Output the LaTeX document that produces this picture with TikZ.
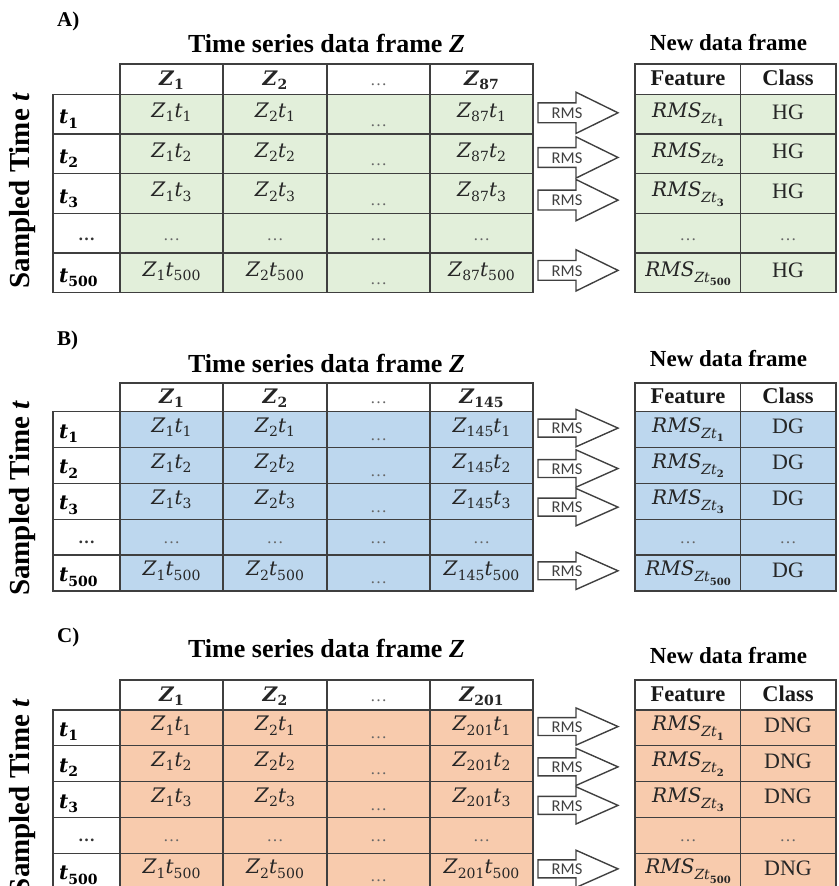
\documentclass[tikz,border=0pt]{standalone}
\usepackage{fontspec}
\setmainfont{Liberation Serif}
\newfontfamily\rmsfont{Carlito}
\newfontfamily\mathlike{DejaVu Serif}
\definecolor{gfill}{HTML}{E2EFDA}
\definecolor{bfill}{HTML}{BDD7EE}
\definecolor{ofill}{HTML}{F8CBAD}
\definecolor{gridc}{HTML}{3F3F3F}
% math-like cell texts
\newcommand\SB[1]{\raisebox{-0.22em}{\fontsize{14}{14}\selectfont\upshape #1}}
\newcommand\ZT[2]{\textit{Z}\SB{#1}\textit{t}\SB{#2}}
\newcommand\RMSsub[1]{\textit{RMS}\raisebox{-0.3em}{\fontsize{14}{14}\selectfont\itshape Zt\raisebox{-0.25em}{\fontsize{10}{10}\selectfont\upshape\bfseries #1}}}
\newcommand\HZ[1]{\textbf{\textit{Z}}\SB{\bfseries #1}}
\newcommand\HT[1]{\textbf{\textit{t}}\SB{\bfseries #1}}
\tikzset{
  gridline/.style={draw=gridc, line width=1.3pt},
  cell/.style={inner sep=0pt, font=\mathlike\fontsize{20}{24}\selectfont, text=black!85},
  clscell/.style={inner sep=0pt, font=\fontsize{22}{24}\selectfont, text=black!85},
  hcell/.style={inner sep=0pt, font=\fontsize{22.5}{26}\selectfont\bfseries, text=black!90},
  rowlab/.style={inner sep=0pt, font=\mathlike\fontsize{20}{24}\selectfont, text=black},
  dotc/.style={inner sep=0pt, font=\fontsize{17}{20}\selectfont, text=black!60},
  rowdots/.style={inner sep=0pt, font=\fontsize{17}{20}\selectfont\bfseries, text=black!80},
  rmsarrow/.style={draw=black!75, line width=1.4pt, line join=miter},
  rmslab/.style={inner sep=0pt, font=\rmsfont\fontsize{16.5}{18}\selectfont, text=black!75},
  paneltitle/.style={inner sep=0pt, font=\fontsize{26}{30}\selectfont\bfseries, text=black},
  newtitle/.style={inner sep=0pt, font=\fontsize{23}{27}\selectfont\bfseries, text=black},
  panlab/.style={inner sep=0pt, font=\fontsize{21}{24}\selectfont\bfseries, text=black},
  sidelab/.style={inner sep=0pt, font=\fontsize{29}{32}\selectfont\bfseries, text=black},
}
% #1 id, #2 fill, #3 last Z index, #4 class, #5 header top, #6 header height,
% #7 row height, #8 title baseline, #9 new-frame title baseline
\newcommand\DrawPanel[9]{%
  \pgfmathsetmacro\pHT{#5}%
  \pgfmathsetmacro\pHB{#5+#6}%
  \pgfmathsetmacro\pBT{#5+#6+5*#7}%
  \fill[#2] (120,\pHB) rectangle (533,\pBT);
  \fill[#2] (635,\pHB) rectangle (836,\pBT);
  % grid of main table
  \draw[gridline] (120,\pHT) rectangle (533,\pBT);
  \draw[gridline] (53,\pHB) rectangle (120,\pBT);
  \foreach \xx in {223,327,430} {\draw[gridline] (\xx,\pHT) -- (\xx,\pBT);}
  \foreach \k in {1,...,4} {\draw[gridline] (53,{\pHB+\k*#7}) -- (533,{\pHB+\k*#7});}
  \draw[gridline] (120,\pHB) -- (533,\pHB);
  % grid of new table
  \draw[gridline] (635,\pHT) rectangle (836,\pBT);
  \draw[gridline] (740.7,\pHT) -- (740.7,\pBT);
  \draw[gridline] (635,\pHB) -- (836,\pHB);
  \foreach \k in {1,...,4} {\draw[gridline] (635,{\pHB+\k*#7}) -- (836,{\pHB+\k*#7});}
  % titles
  \node[panlab, anchor=west] (#1-lab) at (57,{#5-43}) {#1)};
  \node[paneltitle, anchor=base] (#1-title) at (326.5,#8) {Time series data frame \textit{Z}};
  \node[newtitle, anchor=base] (#1-newtitle) at (728.5,#9) {New data frame};
  \node[sidelab, rotate=90] (#1-side) at (23,{(\pHB+\pBT)/2-3}) {Sampled Time \textit{t}};
  % header
  \pgfmathsetmacro\hc{\pHT+#6/2+6}%
  \node[cell, anchor=base] (#1-h1) at (171.5,\hc) {\HZ{1}};
  \node[cell, anchor=base] (#1-h2) at (275,\hc) {\HZ{2}};
  \node[dotc, anchor=base] (#1-h3) at (378.5,\hc) {\dots};
  \node[cell, anchor=base] (#1-h4) at (481.5,\hc) {\HZ{#3}};
  \node[hcell, anchor=base] (#1-hf) at (688,\hc) {Feature};
  \node[hcell, anchor=base] (#1-hg) at (788,\hc) {Class};
  % data rows
  \foreach \i/\s in {1/1,2/2,3/3,5/500} {
    \pgfmathsetmacro\rc{\pHB+(\i-0.5)*#7}
    \node[rowlab, anchor=base west] (#1-l\i) at (59,{\rc+0.24*#7}) {\HT{\s}};
    \node[cell, anchor=base] (#1-a\i) at (171.5,{\rc+0.08*#7}) {\ZT{1}{\s}};
    \node[cell, anchor=base] (#1-b\i) at (275,{\rc+0.08*#7}) {\ZT{2}{\s}};
    \node[dotc, anchor=base] (#1-c\i) at (378.5,{\rc+0.3*#7}) {\dots};
    \node[cell, anchor=base] (#1-d\i) at (481.5,{\rc+0.08*#7}) {\ZT{#3}{\s}};
    \node[cell, anchor=base] (#1-f\i) at (688,{\rc+0.08*#7}) {\RMSsub{\s}};
    \node[clscell, anchor=base] (#1-g\i) at (788,{\rc+0.12*#7}) {#4};
  }
  % dots row
  \pgfmathsetmacro\rd{\pHB+3.5*#7+0.18*#7}%
  \node[rowdots, anchor=base] (#1-l4) at (86.5,\rd) {\dots};
  \node[dotc, anchor=base] (#1-a4) at (171.5,\rd) {\dots};
  \node[dotc, anchor=base] (#1-b4) at (275,\rd) {\dots};
  \node[dotc, anchor=base] (#1-c4) at (378.5,\rd) {\dots};
  \node[dotc, anchor=base] (#1-d4) at (481.5,\rd) {\dots};
  \node[dotc, anchor=base] (#1-f4) at (688,\rd) {\dots};
  \node[dotc, anchor=base] (#1-g4) at (788,\rd) {\dots};
  % RMS arrows
  \foreach \i/\o in {1/-1.5,2/3.5,3/6.5,5/-2.5} {
    \pgfmathsetmacro\ay{\pHB+(\i-0.5)*#7+\o*#7/39.6}
    \pgfmathsetmacro\hh{0.52*#7}
    \pgfmathsetmacro\bh{0.25*#7}
    \draw[rmsarrow] (538,\ay-\bh) -- (576,\ay-\bh) -- (576,\ay-\hh) -- (618,\ay)
      -- (576,\ay+\hh) -- (576,\ay+\bh) -- (538,\ay+\bh) -- cycle;
    \node[rmslab] (#1-rms\i) at (567,\ay+0.5) {RMS};
  }
}
\begin{document}
\begin{tikzpicture}[x=1pt,y=-1pt]
  \useasboundingbox (0,0) rectangle (838,886);
  \DrawPanel{A}{gfill}{87}{HG}{64}{30.5}{39.64}{52}{50}
  \DrawPanel{B}{bfill}{145}{DG}{383}{28.5}{35.9}{372}{366}
  \DrawPanel{C}{ofill}{201}{DNG}{680}{30}{35.8}{657}{663}
\end{tikzpicture}
\end{document}
